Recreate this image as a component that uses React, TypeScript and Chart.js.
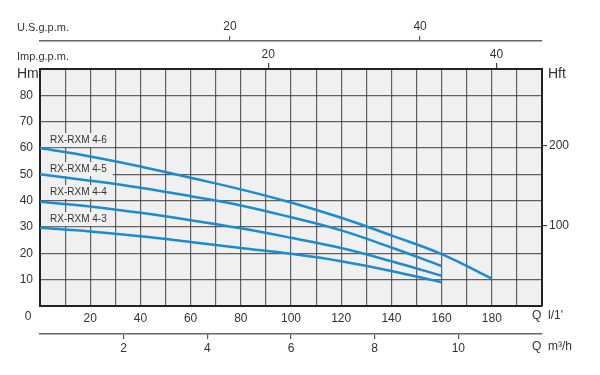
import React, { useEffect, useRef } from "react";
import { Chart, registerables } from "chart.js";

Chart.register(...registerables);

// Flow (l/min) sample points
const flowQ = [0, 20, 40, 60, 80, 100, 120, 140, 160, 180];
// Heads (m)
const head46 = [60, 56.8, 53, 48.7, 44.3, 39.3, 33.5, 26.8, 19.7, 10.4];
const head45 = [50, 47.6, 44.9, 41.7, 38.2, 33.7, 28.7, 22.2, 15.2];
const head44 = [39.6, 37.8, 35.4, 32.6, 29.5, 25.9, 22.0, 17.0, 11.5];
const head43 = [29.7, 28.3, 26.5, 24.3, 22.0, 19.8, 17.0, 13.3, 9.0];

const seriesNames = ["RX-RXM 4-6", "RX-RXM 4-5", "RX-RXM 4-4", "RX-RXM 4-3"];
const seriesHeads = [head46, head45, head44, head43];
const labelQ = 4;
const labelH = [63, 52, 43.3, 33];

// secondary axis tick values
const m3hTicks = [2, 4, 6, 8, 10];
const usTicks = [20, 40];
const impTicks = [20, 40];
const ftTicks = [100, 200];

// axis ranges
const qMax = 200; // l/min
const hMax = 90; // m
const m3hMax = qMax / 16.6667;
const usMax = qMax / 3.78541;
const impMax = qMax / 4.54609;
const ftMax = hMax / 0.3048;

const FONT = "'Liberation Sans', Arial, sans-serif";
const TXT = "#333";
const BLUE = "#1b8bd3";

const setTicks = (vals: number[]) => (axis: any) => {
  axis.ticks = vals.map((v) => ({ value: v }));
};

const decorPlugin = {
  id: "decor",
  beforeDraw(chart: any) {
    const { ctx, chartArea: a } = chart;
    ctx.save();
    ctx.fillStyle = "#f0f0f0";
    ctx.fillRect(a.left, a.top, a.right - a.left, a.bottom - a.top);
    ctx.restore();
  },
  beforeDatasetsDraw(chart: any) {
    const { ctx } = chart;
    const xs = chart.scales.x;
    const ys = chart.scales.y;
    ctx.save();
    ctx.font = `10px ${FONT}`;
    ctx.textBaseline = "middle";
    ctx.textAlign = "left";
    seriesNames.forEach((name, i) => {
      const px = xs.getPixelForValue(labelQ);
      const py = ys.getPixelForValue(labelH[i]);
      const w = ctx.measureText(name).width;
      ctx.fillStyle = "#f0f0f0";
      ctx.fillRect(px - 8, py - 7, w + 14, 14);
      ctx.fillStyle = TXT;
      ctx.fillText(name, px, py);
    });
    ctx.restore();
  },
  afterDraw(chart: any) {
    const { ctx } = chart;
    ctx.save();
    ctx.fillStyle = TXT;
    ctx.textBaseline = "middle";
    ctx.textAlign = "left";
    ctx.font = `11px ${FONT}`;
    ctx.fillText("U.S.g.p.m.", 17, 28);
    ctx.fillText("Imp.g.p.m.", 17, 57);
    ctx.font = `14px ${FONT}`;
    ctx.fillText("Hm", 17, 74);
    ctx.fillText("Hft", 548, 74);
    ctx.font = `12px ${FONT}`;
    ctx.fillText("Q  l/1'", 532, 316);
    ctx.fillText("Q  m\u00B3/h", 532, 347);
    ctx.textAlign = "center";
    ctx.fillText("0", 28, 317);
    ctx.restore();
  },
};

export default function App() {
  const ref = useRef<HTMLCanvasElement | null>(null);
  useEffect(() => {
    if (!ref.current) return;
    Chart.defaults.font.family = FONT;
    const datasets = seriesHeads.map((h, i) => ({
      label: seriesNames[i],
      data: h.map((v, j) => ({ x: flowQ[j], y: v })),
      borderColor: BLUE,
      borderWidth: 2.5,
      pointRadius: 0,
      fill: false,
      tension: 0.4,
      xAxisID: "x",
      yAxisID: "y",
    }));
    const tickFont = { size: 12, family: FONT };
    const lbl = (v: any) => String(v);
    const chart = new Chart(ref.current, {
      type: "line",
      data: { datasets },
      plugins: [decorPlugin],
      options: {
        responsive: false,
        animation: false,
        layout: { padding: { top: 16, bottom: 16, left: 0, right: 0 } },
        plugins: { legend: { display: false }, tooltip: { enabled: false } },
        scales: {
          x: {
            type: "linear",
            position: "bottom",
            weight: 0,
            min: 0,
            max: qMax,
            ticks: {
              stepSize: 10,
              autoSkip: false,
              maxRotation: 0,
              padding: 5,
              color: TXT,
              font: tickFont,
              callback: (v: any) => (v % 20 === 0 && v > 0 && v < qMax ? String(v) : ""),
            },
            grid: { color: "rgba(70,70,70,0.85)", lineWidth: 1.2, drawTicks: false },
            border: { display: true, color: "#222", width: 2 },
            afterFit: (s: any) => { s.height = 28; },
          },
          xm: {
            type: "linear",
            position: "bottom",
            weight: 1,
            min: 0,
            max: m3hMax,
            afterBuildTicks: setTicks(m3hTicks),
            ticks: { padding: 2, color: TXT, font: tickFont, maxRotation: 0, autoSkip: false, callback: lbl },
            grid: { drawOnChartArea: false, drawTicks: true, tickLength: 5, color: "#555", lineWidth: 1.2 },
            border: { display: true, color: "#666", width: 1.5 },
            afterFit: (s: any) => { s.height = 25; },
          },
          xi: {
            type: "linear",
            position: "top",
            weight: 0,
            min: 0,
            max: impMax,
            afterBuildTicks: setTicks(impTicks),
            ticks: { padding: 1, color: TXT, font: tickFont, maxRotation: 0, autoSkip: false, callback: lbl },
            grid: { drawOnChartArea: false, drawTicks: true, tickLength: 6, color: "#444", lineWidth: 1.2 },
            border: { display: true, color: "#222", width: 2 },
            afterFit: (s: any) => { s.height = 28; },
          },
          xu: {
            type: "linear",
            position: "top",
            weight: 1,
            min: 0,
            max: usMax,
            afterBuildTicks: setTicks(usTicks),
            ticks: { padding: 2, color: TXT, font: tickFont, maxRotation: 0, autoSkip: false, callback: lbl },
            grid: { drawOnChartArea: false, drawTicks: true, tickLength: 5, color: "#555", lineWidth: 1.2 },
            border: { display: true, color: "#666", width: 1.5 },
            afterFit: (s: any) => { s.height = 25; },
          },
          y: {
            type: "linear",
            position: "left",
            min: 0,
            max: hMax,
            ticks: {
              stepSize: 10,
              padding: 7,
              color: TXT,
              font: tickFont,
              callback: (v: any) => (v > 0 && v < hMax ? String(v) : ""),
            },
            grid: { color: "rgba(70,70,70,0.85)", lineWidth: 1.2, drawTicks: false },
            border: { display: true, color: "#222", width: 2 },
            afterFit: (s: any) => { s.width = 40; },
          },
          yf: {
            type: "linear",
            position: "right",
            min: 0,
            max: ftMax,
            afterBuildTicks: setTicks(ftTicks),
            ticks: { padding: 2, color: TXT, font: tickFont, autoSkip: false, callback: lbl },
            grid: { drawOnChartArea: false, drawTicks: true, tickLength: 5, color: "#444", lineWidth: 1.2 },
            border: { display: true, color: "#222", width: 2 },
            afterFit: (s: any) => { s.width = 58; },
          },
        },
      },
    } as any);
    return () => chart.destroy();
  }, []);
  return (
    <div style={{ position: "absolute", left: 0, top: 0, width: 600, height: 375, background: "#fff" }}>
      <canvas ref={ref} width={600} height={375} style={{ width: 600, height: 375 }} />
    </div>
  );
}
